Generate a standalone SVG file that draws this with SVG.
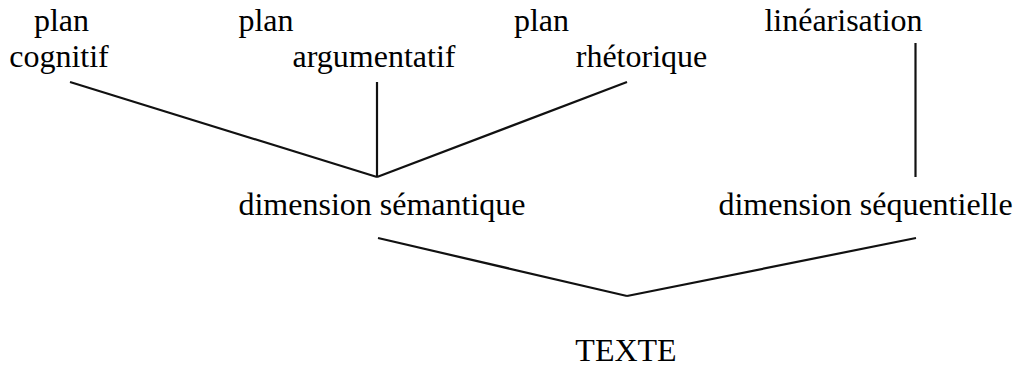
<svg xmlns="http://www.w3.org/2000/svg" width="1016" height="368" viewBox="0 0 1016 368">
<style>
.c line{stroke:#111;stroke-width:2.2;stroke-linecap:butt}
</style>
<rect width="1016" height="368" fill="#fff"/>
<g class="c" id="connectors">
<line x1="70" y1="82" x2="377" y2="177"/>
<line x1="377" y1="82" x2="377" y2="177"/>
<line x1="627" y1="82" x2="377" y2="177"/>
<line x1="915.5" y1="43" x2="915.5" y2="177"/>
<line x1="378" y1="238" x2="627" y2="296"/>
<line x1="916" y1="238" x2="627" y2="296"/>
</g>
<g font-family="'Liberation Serif', serif" font-size="32" fill="#000" text-anchor="middle">
<g id="plan-cognitif"><text x="61.5" y="31">plan</text><text x="59" y="66.5">cognitif</text></g>
<g id="plan-argumentatif"><text x="266" y="31">plan</text><text x="374" y="66.5">argumentatif</text></g>
<g id="plan-rhetorique"><text x="541.5" y="31">plan</text><text x="641.5" y="66.5">rhétorique</text></g>
<g id="linearisation"><text x="843.5" y="31">linéarisation</text></g>
<g id="dim-semantique"><text x="382" y="215">dimension sémantique</text></g>
<g id="dim-sequentielle"><text x="865.5" y="215">dimension séquentielle</text></g>
<g id="texte"><text x="626" y="361">TEXTE</text></g>
</g>
</svg>
